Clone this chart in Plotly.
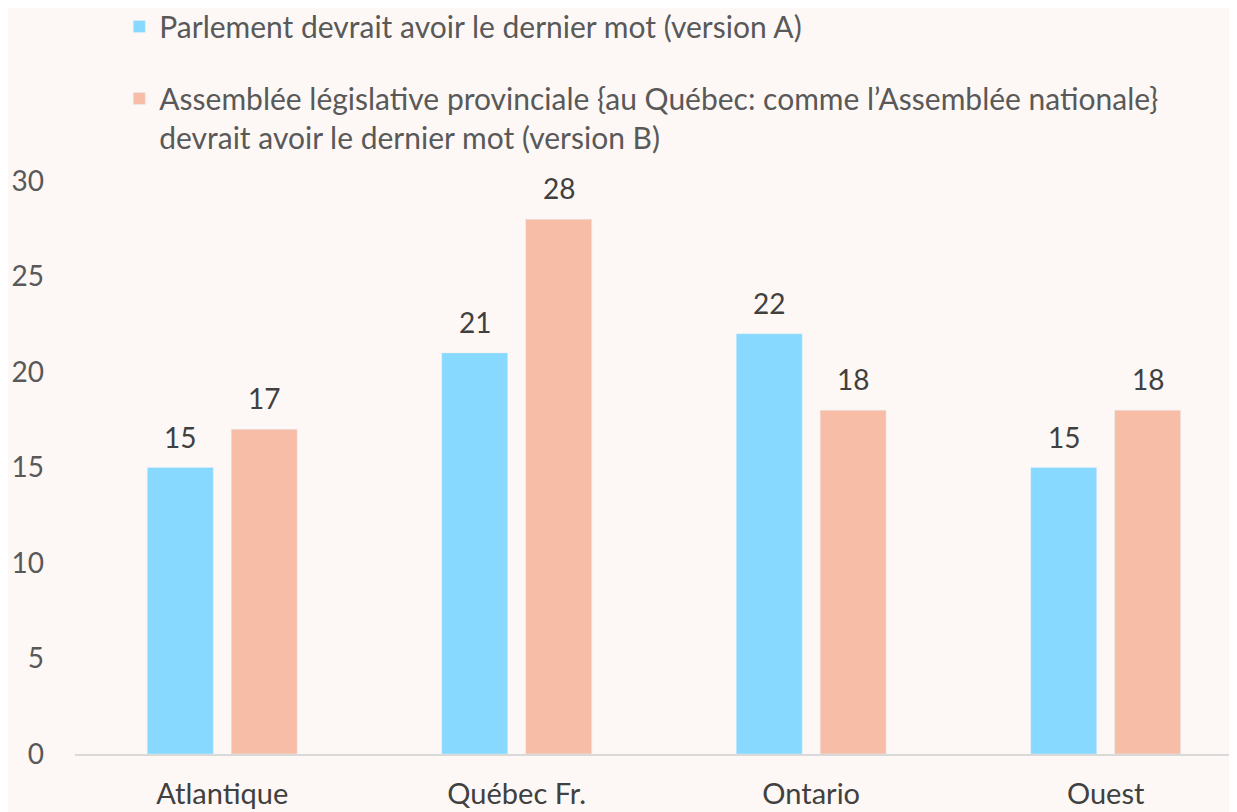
import plotly.graph_objects as go

categories = ["Atlantique", "Québec Fr.", "Ontario", "Ouest"]
version_a = [15, 21, 22, 15]
version_b = [17, 28, 18, 18]
name_a = "Parlement devrait avoir le dernier mot (version A)"
name_b = "Assemblée législative provinciale {au Québec: comme l’Assemblée nationale}<br>devrait avoir le dernier mot (version B)"

FONT = "Lato"
fig = go.Figure()
fig.add_trace(go.Bar(x=categories, y=version_a, name=name_a, marker_color="#87D9FF",
                     legendgroup="a"))
fig.add_trace(go.Bar(x=categories, y=version_b, name=name_b, marker_color="#F8BDA6",
                     legendgroup="b"))

# value labels above bars
for series, shift in ((version_a, -42), (version_b, 42)):
    for cat, val in zip(categories, series):
        fig.add_annotation(x=cat, y=val, text=str(val), showarrow=False,
                           xshift=shift, yshift=12, yanchor="bottom",
                           font=dict(size=28, color="#404040", family=FONT))

fig.update_layout(
    width=1237, height=812,
    paper_bgcolor="#FDF8F5", plot_bgcolor="#FDF8F5",
    font=dict(family=FONT, size=30, color="#595959"),
    margin=dict(l=67, r=8, t=173, b=66, autoexpand=False),
    barmode="group", bargap=0.43, bargroupgap=0.214,
    showlegend=True,
    legend=dict(x=0.0381, y=1.3150, xanchor="left", yanchor="top", valign="top",
                tracegroupgap=30, font=dict(size=30, color="#595959", family=FONT),
                bgcolor="rgba(0,0,0,0)"),
    xaxis=dict(range=[-0.5, 3.446], showgrid=False, showline=True, linecolor="#D9D9D9",
               linewidth=2, ticks="", tickangle=0, ticklabelstandoff=13,
               tickfont=dict(size=29, color="#404040")),
    yaxis=dict(range=[0, 30], dtick=5, showgrid=False, zeroline=False, showline=False,
               ticks="", tickfont=dict(size=28, color="#595959"), ticklabelstandoff=30),
)
fig.write_html("out.html")
